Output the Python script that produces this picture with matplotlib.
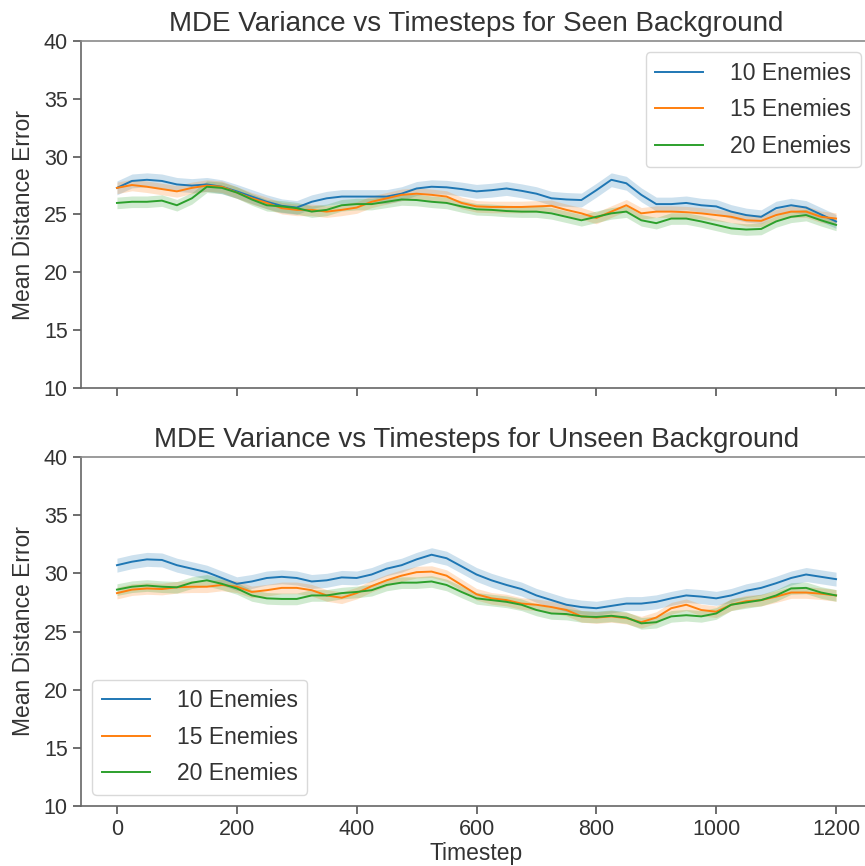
import numpy as np
import matplotlib
matplotlib.use("Agg")
import matplotlib.pyplot as plt

plt.rcParams["font.family"] = ["Liberation Sans", "DejaVu Sans"]

# rolling mean distance error, sampled every 25 timesteps
timesteps = list(range(0, 1201, 25))

seen_10 = [27.3, 27.9, 28.0, 27.9, 27.6, 27.5, 27.6, 27.4, 27.0, 26.55,
           26.1, 25.75, 25.6, 26.1, 26.4, 26.55, 26.55, 26.55, 26.55, 26.8,
           27.25, 27.4, 27.35, 27.2, 27.0, 27.1, 27.25, 27.05, 26.8, 26.4,
           26.3, 26.25, 27.1, 28.0, 27.7, 26.7, 25.9, 25.9, 26.0, 25.8,
           25.7, 25.25, 24.95, 24.8, 25.55, 25.8, 25.6, 25.0, 24.4]
seen_15 = [27.3, 27.55, 27.4, 27.2, 27.0, 27.3, 27.5, 27.4, 26.9, 26.4,
           26.0, 25.55, 25.4, 25.4, 25.25, 25.4, 25.6, 26.1, 26.4, 26.7,
           26.8, 26.7, 26.55, 26.0, 25.7, 25.65, 25.65, 25.65, 25.7, 25.75,
           25.4, 25.1, 24.7, 25.25, 25.8, 25.1, 25.25, 25.25, 25.2, 25.1,
           24.95, 24.8, 24.5, 24.45, 24.95, 25.25, 25.25, 24.8, 24.65]
seen_20 = [26.0, 26.1, 26.1, 26.2, 25.8, 26.4, 27.4, 27.3, 26.9, 26.3,
           25.8, 25.7, 25.55, 25.25, 25.4, 25.8, 25.9, 25.9, 26.1, 26.3,
           26.25, 26.1, 26.0, 25.7, 25.45, 25.4, 25.3, 25.25, 25.25, 25.1,
           24.8, 24.5, 24.8, 25.1, 25.25, 24.5, 24.25, 24.65, 24.65, 24.4,
           24.1, 23.8, 23.7, 23.75, 24.4, 24.8, 24.95, 24.5, 24.1]

unseen_10 = [30.7, 31.0, 31.2, 31.15, 30.7, 30.4, 30.1, 29.6, 29.1, 29.3,
             29.6, 29.7, 29.6, 29.3, 29.4, 29.65, 29.6, 29.9, 30.4, 30.7,
             31.2, 31.6, 31.3, 30.6, 29.9, 29.4, 29.0, 28.65, 28.1, 27.7,
             27.3, 27.1, 27.0, 27.2, 27.4, 27.4, 27.55, 27.85, 28.1, 28.0,
             27.85, 28.1, 28.5, 28.75, 29.15, 29.6, 29.9, 29.7, 29.5]
unseen_15 = [28.3, 28.6, 28.7, 28.65, 28.8, 28.85, 28.85, 29.0, 28.85, 28.4,
             28.55, 28.75, 28.75, 28.55, 28.1, 27.9, 28.3, 28.9, 29.4, 29.8,
             30.1, 30.15, 29.8, 29.0, 28.2, 27.85, 27.7, 27.4, 27.3, 27.1,
             26.85, 26.3, 26.2, 26.3, 26.15, 25.8, 26.2, 27.0, 27.3, 26.85,
             26.7, 27.3, 27.6, 27.7, 28.0, 28.35, 28.35, 28.25, 28.1]
unseen_20 = [28.6, 28.85, 28.95, 28.85, 28.8, 29.2, 29.4, 29.1, 28.7, 28.1,
             27.85, 27.8, 27.8, 28.1, 28.1, 28.3, 28.4, 28.55, 29.0, 29.2,
             29.2, 29.3, 29.0, 28.4, 27.85, 27.7, 27.55, 27.3, 26.85, 26.55,
             26.5, 26.3, 26.25, 26.35, 26.2, 25.7, 25.8, 26.3, 26.4, 26.3,
             26.55, 27.3, 27.5, 27.7, 28.1, 28.7, 28.75, 28.35, 28.1]

# half-width of the confidence band for each enemy count
band_10 = 0.6
band_15 = 0.5
band_20 = 0.5

labels = ["10 Enemies", "15 Enemies", "20 Enemies"]
colors = ["#1f77b4", "#ff7f0e", "#2ca02c"]

panels = [
    ("MDE Variance vs Timesteps for Seen Background", [seen_10, seen_15, seen_20], "upper right"),
    ("MDE Variance vs Timesteps for Unseen Background", [unseen_10, unseen_15, unseen_20], "lower left"),
]
bands = [band_10, band_15, band_20]

W, H = 865, 866
fig = plt.figure(figsize=(W / 100, H / 100), dpi=100)
ax_top = fig.add_axes([81 / W, 1 - 388 / H, 791 / W, 347 / H])
ax_bot = fig.add_axes([81 / W, 1 - 806 / H, 791 / W, 349 / H])

text_col = "#333333"
for ax, (title, series, loc) in zip([ax_top, ax_bot], panels):
    x = np.array(timesteps)
    for vals, band, lab, col in zip(series, bands, labels, colors):
        y = np.array(vals)
        ax.fill_between(x, y - band, y + band, color=col, alpha=0.22, linewidth=0)
        ax.plot(x, y, color=col, lw=1.4, label=lab)

    ax.set_xlim(-60, 1260)
    ax.set_ylim(10, 40)
    ax.set_xticks(range(0, 1201, 200))
    ax.set_yticks(range(10, 41, 5))
    ax.set_title(title, fontsize=20, color=text_col, pad=7)
    ax.set_ylabel("Mean Distance Error", fontsize=16.5, color=text_col, labelpad=6)
    ax.tick_params(direction="out", length=6, width=1.2, colors="#555555",
                   labelcolor=text_col, labelsize=15.5)
    for side in ["left", "bottom", "top", "right"]:
        ax.spines[side].set_color("#666666")
        ax.spines[side].set_linewidth(1.2)
    ax.spines["top"].set_color("#8a8a8a")

    leg = ax.legend(loc=loc, fontsize=16.5, frameon=True, fancybox=True,
                    handlelength=2.1, borderpad=0.4, labelspacing=0.6,
                    handletextpad=1.2)
    leg.get_frame().set_edgecolor("#d0d0d0")
    leg.get_frame().set_linewidth(1.0)
    for t in leg.get_texts():
        t.set_color(text_col)

ax_top.tick_params(labelbottom=False)
ax_bot.set_xlabel("Timestep", fontsize=16.5, color=text_col, labelpad=1)

fig.savefig("out.png", dpi=100)
